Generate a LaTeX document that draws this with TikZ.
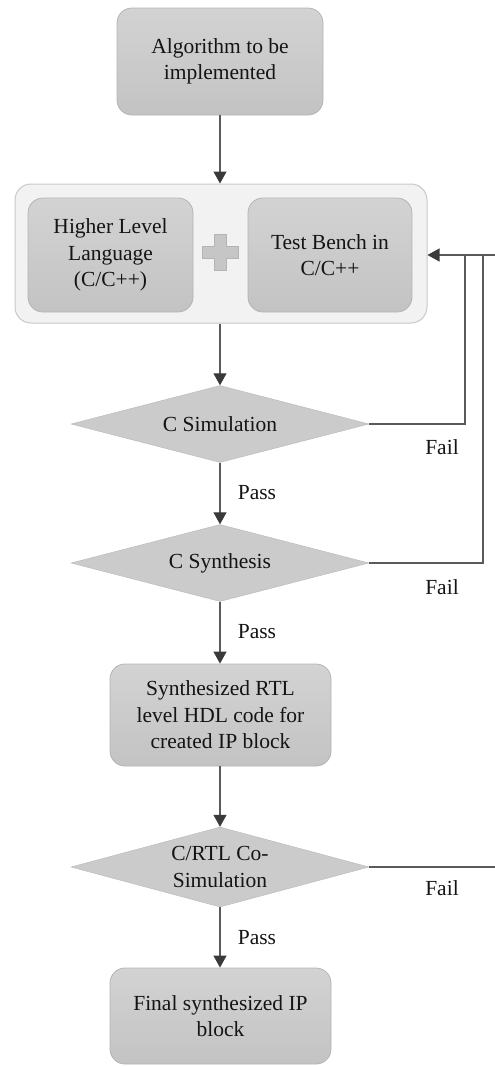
\documentclass[tikz,border=0pt]{standalone}
\usepackage{fontspec}
\setmainfont{Liberation Serif}
\usetikzlibrary{shapes.geometric,arrows.meta}
\definecolor{boxtop}{HTML}{D3D3D3}
\definecolor{boxbot}{HTML}{C3C3C3}
\definecolor{boxline}{HTML}{B4B4B4}
\definecolor{panel}{HTML}{F2F2F2}
\definecolor{panelline}{HTML}{C8C8C8}
\definecolor{decfill}{HTML}{CBCBCB}
\definecolor{wire}{HTML}{5A5A5A}
\definecolor{tip}{HTML}{3A3A3A}
\definecolor{ink}{HTML}{141414}
\tikzset{
  every node/.style={font=\fontsize{21.5}{26.5}\selectfont, text=ink},
  box/.style={rectangle, rounded corners=15pt, draw=boxline, line width=0.8pt,
    top color=boxtop, bottom color=boxbot, align=center, inner sep=0pt},
  panelbox/.style={rectangle, rounded corners=16pt, draw=panelline, line width=1pt,
    fill=panel, inner sep=0pt},
  decision/.style={diamond, draw=decfill!90!black, line width=0.4pt, fill=decfill,
    inner sep=0pt, minimum width=298pt},
  wireline/.style={draw=wire, line width=1.2pt},
  flow/.style={wireline, -{Triangle[width=13pt,length=12pt,color=tip]}},
  tag/.style={inner sep=0pt}
}
\begin{document}
\begin{tikzpicture}[x=1pt, y=-1pt]
\useasboundingbox (0,0) rectangle (495,1066);

% process blocks
\node[box, minimum width=206pt, minimum height=107pt] (alg) at (220,61.5)
  {Algorithm to be\\implemented};

\node[panelbox, minimum width=412pt, minimum height=139pt] (src) at (221,253.5) {};
\node[box, minimum width=165pt, minimum height=114pt] (hll) at (110.5,255)
  {Higher Level\\Language\\(C/C++)};
\node[box, minimum width=164pt, minimum height=114pt] (tb) at (330,255)
  {Test Bench in\\C/C++};

% plus sign between the two sources
\node[inner sep=0pt, minimum size=0pt] (plus) at (220,252) {};
\filldraw[fill=boxbot!95!white, draw=boxline, line width=0.6pt]
  ([shift={(-6,-18)}]plus.center) -- ([shift={(6,-18)}]plus.center)
  -- ([shift={(6,-6)}]plus.center) -- ([shift={(18,-6)}]plus.center)
  -- ([shift={(18,6)}]plus.center) -- ([shift={(6,6)}]plus.center)
  -- ([shift={(6,18)}]plus.center) -- ([shift={(-6,18)}]plus.center)
  -- ([shift={(-6,6)}]plus.center) -- ([shift={(-18,6)}]plus.center)
  -- ([shift={(-18,-6)}]plus.center) -- ([shift={(-6,-6)}]plus.center) -- cycle;

\node[decision, minimum height=77pt, label={[align=center]center:C Simulation}]
  (csim) at (220,424) {};
\node[decision, minimum height=77pt, label={[align=center]center:C Synthesis}]
  (csyn) at (220,563) {};
\node[box, minimum width=221pt, minimum height=102pt] (rtl) at (220.5,715)
  {Synthesized RTL\\level HDL code for\\created IP block};
\node[decision, minimum height=80pt, label={[align=center]center:C/RTL Co-\\Simulation}]
  (cosim) at (220,867) {};
\node[box, minimum width=221pt, minimum height=96pt] (final) at (220.5,1016)
  {Final synthesized IP\\block};

% main flow
\draw[flow] (alg.south -| csim.north) -- (src.north -| csim.north);
\draw[flow] (src.south -| csim.north) -- (csim.north);
\draw[flow] (csim.south) -- (csyn.north);
\draw[flow] (csyn.south) -- (csyn.south |- rtl.north);
\draw[flow] (rtl.south -| cosim.north) -- (cosim.north);
\draw[flow] (cosim.south) -- (cosim.south |- final.north);

% failure feedback
\coordinate (simback) at (465,255);
\coordinate (synback) at (483,255);
\coordinate (retin) at (495,255);
\coordinate (coout) at (495,867);
\draw[wireline] (csim.east) -| (simback);
\draw[wireline] (csyn.east) -| (synback);
\draw[flow] (retin) -- (retin -| src.east);
\draw[wireline] (cosim.east) -- (coout);

% branch labels
\node[tag] (p1) at (257,493) {Pass};
\node[tag] (p2) at (257,632) {Pass};
\node[tag] (p3) at (257,938) {Pass};
\node[tag] (f1) at (442,447) {Fail};
\node[tag] (f2) at (442,587) {Fail};
\node[tag] (f3) at (442,888) {Fail};
\end{tikzpicture}
\end{document}
